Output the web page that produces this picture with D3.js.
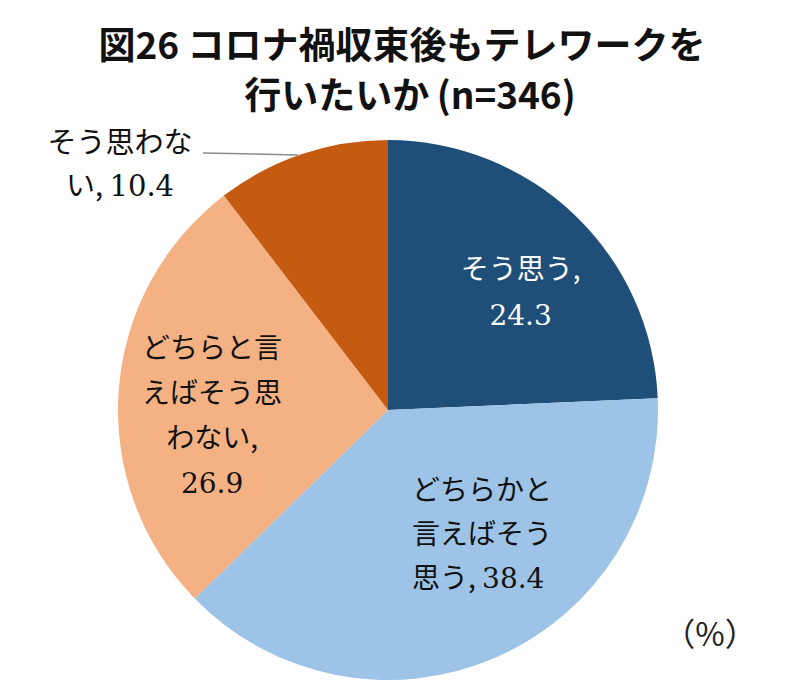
<!DOCTYPE html>
<html><head><meta charset="utf-8">
<script src="https://cdn.jsdelivr.net/npm/d3@7"></script>
<style>
html,body{margin:0;padding:0;background:#fff;}
svg{display:block;}
</style></head>
<body>
<script>
const categories = ["そう思う", "どちらかと言えばそう思う", "どちらかと言えばそう思わない", "そう思わない"];
const values = [24.3, 38.4, 26.9, 10.4];
const colors = ["#1f4e79", "#9dc3e6", "#f4b183", "#c55a11"];
// label lines (value appended on the configured line)
const labelLines = [
  ["そう思う,", ""],
  ["どちらかと", "言えばそう", "思う, "],
  ["どちらと言", "えばそう思", "わない,", ""],
  ["そう思わな", "い, "]
];
const titleLines = ["図26 コロナ禍収束後もテレワークを", "行いたいか\u2009(n=346)"];
const unitLabel = "（%）";

const W = 800, H = 697;
const cx = 388, cy = 410, R = 270;
const jp = "'Noto Sans CJK JP','Noto Sans',sans-serif";
const serif = "'DejaVu Serif','Liberation Serif',serif";

const svg = d3.select("body").append("svg").attr("width", W).attr("height", H);

// title
svg.selectAll("text.title").data(titleLines).enter().append("text")
  .attr("class","title")
  .attr("x", (d,i)=> i === 0 ? 402 : 410).attr("y", (d,i)=> 59 + i*50)
  .attr("text-anchor","middle")
  .attr("font-family", jp).attr("font-weight", 700).attr("font-size", 37)
  .attr("fill","#111")
  .text(d=>d);

const pie = d3.pie().sort(null).value(d=>d);
const arcs = pie(values);
const arc = d3.arc().innerRadius(0).outerRadius(R);

const g = svg.append("g").attr("transform", `translate(${cx},${cy})`);
g.selectAll("path").data(arcs).enter().append("path")
  .attr("d", arc)
  .attr("fill", (d,i)=>colors[i])
  .attr("stroke", "none");

// label placement
const labelCfg = [
  {r: 0.55, dx: 30, dy: -24, anchor: "middle", fill: "#fff", lh: 46, valueLine: 1, fs: 28},
  {anchor: "start", fill: "#111", lh: 44, valueLine: 2, fs: 28, abs: [412, 500]},
  {r: 0.62, dx: -9, dy: -40, anchor: "middle", fill: "#111", lh: 45, valueLine: 3, fs: 28},
  {anchor: "middle", fill: "#111", lh: 43, valueLine: 1, fs: 29, abs: [120, 153]}
];
arcs.forEach((a,i)=>{
  const cfg = labelCfg[i];
  let x, y;
  if (cfg.abs) { x = cfg.abs[0] - cx; y = cfg.abs[1] - cy; }
  else {
    const c = d3.arc().innerRadius(0).outerRadius(R*cfg.r*2).centroid(a);
    x = c[0] + cfg.dx; y = c[1] + cfg.dy;
  }
  const t = g.append("text").attr("text-anchor", cfg.anchor)
    .attr("font-family", jp).attr("font-weight", 400).attr("font-size", cfg.fs).attr("fill", cfg.fill);
  labelLines[i].forEach((ln, j)=>{
    const ts = t.append("tspan").attr("x", x).attr("y", y + j*cfg.lh);
    ts.append("tspan").text(ln);
    if (j === cfg.valueLine) {
      ts.append("tspan").attr("font-family", serif).attr("font-weight", 400).text(values[i].toFixed(1));
    }
  });
});

// leader line for small slice
svg.append("line")
  .attr("x1", 203).attr("y1", 153)
  .attr("x2", 298).attr("y2", 155)
  .attr("stroke", "#8c8c8c").attr("stroke-width", 1.5);

// unit
svg.append("text").attr("x", 710).attr("y", 646).attr("text-anchor","middle")
  .attr("font-family", jp).attr("font-size", 32).attr("fill","#222").text(unitLabel);
</script>
</body></html>
